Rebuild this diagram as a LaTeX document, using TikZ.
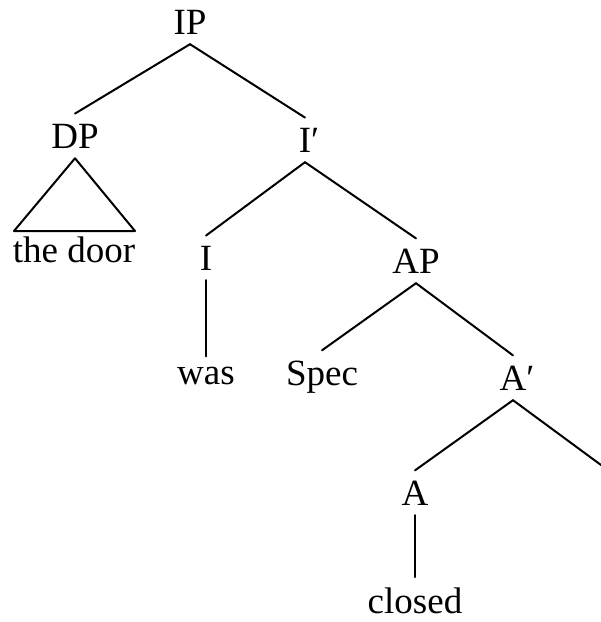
\documentclass[tikz,border=0pt]{standalone}
\usepackage{fontspec}
\setmainfont{Liberation Serif}
\tikzset{
  cat/.style={anchor=base, inner sep=10pt, font=\fontsize{37}{40}\selectfont},
  branch/.style={line width=2pt, line cap=round, line join=round},
}
\newcommand{\barcat}[1]{#1\rlap{′}}
\begin{document}
\begin{tikzpicture}[x=1pt, y=-1pt]
  \useasboundingbox (0,0) rectangle (601,622);
  % category labels, placed at (centre, baseline)
  \node[cat] (IP)    at (190,34)  {IP};
  \node[cat] (DP)    at (75,148)  {DP};
  \node[cat] (door)  at (74,262)  {the door};
  \node[cat] (Ibar)  at (305,152) {\barcat{I}};
  \node[cat] (I)     at (206,270) {I};
  \node[cat] (was)   at (206,384) {was};
  \node[cat] (AP)    at (416,273) {AP};
  \node[cat] (Spec)  at (322,385) {Spec};
  \node[cat] (Abar)  at (513,390) {\barcat{A}};
  \node[cat] (A)     at (415,505) {A};
  \node[cat] (closed) at (415,613) {closed};
  % triangle corners and the complement branch running off the right edge
  \coordinate (triL) at (14,231);
  \coordinate (triR) at (135,231);
  \coordinate (comp) at (601,465);
  % branches
  \draw[branch] (IP.south) -- (DP.north);
  \draw[branch] (IP.south) -- (Ibar.north);
  \draw[branch] (DP.south) -- (triL) -- (triR) -- cycle;
  \draw[branch] (Ibar.south) -- (I.north);
  \draw[branch] (Ibar.south) -- (AP.north);
  \draw[branch] (I.south) -- (was.north);
  \draw[branch] (AP.south) -- (Spec.north);
  \draw[branch] (AP.south) -- (Abar.north);
  \draw[branch] (Abar.south) -- (A.north);
  \draw[branch] (Abar.south) -- (comp);
  \draw[branch] (A.south) -- (closed.north);
\end{tikzpicture}
\end{document}
